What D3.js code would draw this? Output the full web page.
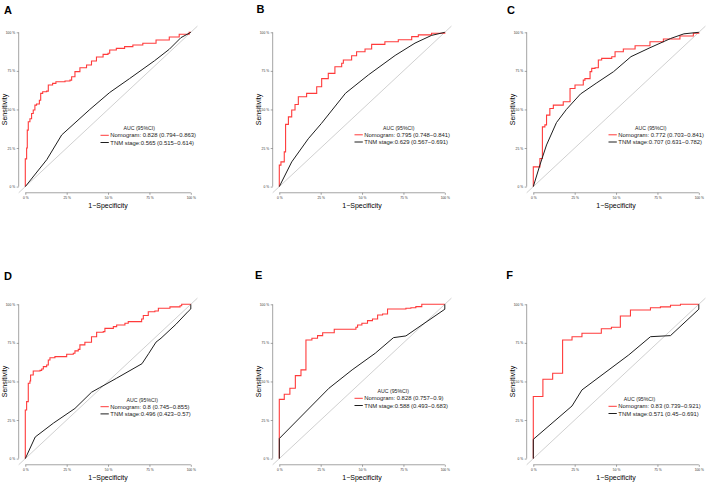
<!DOCTYPE html>
<html>
<head>
<meta charset="utf-8">
<script src="https://cdn.jsdelivr.net/npm/d3@7"></script>
<style>
  body { margin: 0; background: #fff; }
  svg { display: block; font-family: "Liberation Sans", Arial, sans-serif; }
</style>
</head>
<body>
<svg id="chart" width="708" height="486"></svg>
<script>
// ---- data ----
const panelNames = ["A", "B", "C", "D", "E", "F"];
const tickValues = [0, 0.25, 0.5, 0.75, 1];
const tickLabels = ["0 %", "25 %", "50 %", "75 %", "100 %"];

const nomogramAuc  = [0.828, 0.795, 0.772, 0.8, 0.828, 0.83];
const nomogramLow  = [0.794, 0.748, 0.703, 0.745, 0.757, 0.739];
const nomogramHigh = [0.863, 0.841, 0.841, 0.855, 0.9, 0.921];
const tnmAuc  = [0.565, 0.629, 0.707, 0.496, 0.588, 0.571];
const tnmLow  = [0.515, 0.567, 0.631, 0.423, 0.493, 0.45];
const tnmHigh = [0.614, 0.691, 0.782, 0.57, 0.683, 0.691];

// ROC points [1 - specificity, sensitivity]
const nomogramA = [[0,0],[0,0.18],[0.008,0.25],[0.012,0.366],[0.018,0.42],[0.028,0.44],[0.038,0.474],[0.048,0.496],[0.058,0.528],[0.068,0.535],[0.085,0.56],[0.093,0.604],[0.105,0.615],[0.129,0.619],[0.139,0.658],[0.165,0.669],[0.185,0.68],[0.24,0.684],[0.27,0.69],[0.28,0.712],[0.3,0.745],[0.33,0.77],[0.37,0.788],[0.4,0.814],[0.43,0.84],[0.47,0.857],[0.5,0.864],[0.51,0.885],[0.55,0.896],[0.6,0.907],[0.65,0.918],[0.71,0.929],[0.79,0.95],[0.87,0.97],[0.93,0.987],[0.99,1],[1,1]];
const nomogramB = [[0,0],[0,0.139],[0.01,0.16],[0.03,0.225],[0.038,0.403],[0.055,0.452],[0.075,0.496],[0.095,0.532],[0.115,0.582],[0.165,0.604],[0.226,0.647],[0.256,0.7],[0.296,0.734],[0.336,0.777],[0.377,0.799],[0.387,0.82],[0.437,0.848],[0.467,0.874],[0.518,0.892],[0.558,0.922],[0.638,0.939],[0.719,0.952],[0.8,0.972],[0.84,0.983],[0.92,0.994],[1,1]];
const nomogramC = [[0,0],[0,0.128],[0.04,0.182],[0.055,0.387],[0.07,0.4],[0.08,0.463],[0.1,0.506],[0.121,0.528],[0.181,0.55],[0.222,0.636],[0.252,0.658],[0.302,0.69],[0.312,0.7],[0.343,0.745],[0.353,0.766],[0.373,0.77],[0.393,0.82],[0.413,0.831],[0.474,0.842],[0.494,0.874],[0.544,0.892],[0.615,0.913],[0.705,0.939],[0.786,0.957],[0.886,0.976],[0.967,0.994],[1,1]];
const nomogramD = [[0,0],[0,0.315],[0.008,0.369],[0.018,0.488],[0.028,0.503],[0.032,0.542],[0.048,0.568],[0.089,0.572],[0.099,0.581],[0.109,0.596],[0.129,0.607],[0.139,0.639],[0.149,0.654],[0.179,0.661],[0.25,0.676],[0.29,0.683],[0.3,0.698],[0.32,0.708],[0.33,0.737],[0.36,0.754],[0.4,0.79],[0.431,0.819],[0.471,0.823],[0.481,0.844],[0.532,0.855],[0.552,0.866],[0.602,0.877],[0.622,0.888],[0.703,0.905],[0.713,0.927],[0.743,0.952],[0.783,0.957],[0.804,0.974],[0.874,0.983],[0.935,0.991],[0.945,1],[1,1]];
const nomogramE = [[0,0],[0,0.384],[0.03,0.417],[0.064,0.456],[0.097,0.538],[0.131,0.575],[0.161,0.769],[0.197,0.78],[0.231,0.797],[0.262,0.816],[0.332,0.838],[0.463,0.851],[0.473,0.866],[0.499,0.877],[0.533,0.894],[0.563,0.905],[0.594,0.931],[0.624,0.937],[0.654,0.97],[0.765,0.974],[0.795,0.978],[0.825,0.985],[0.861,1],[1,1]];
const nomogramF = [[0,0],[0,0.402],[0.058,0.514],[0.117,0.553],[0.177,0.769],[0.234,0.79],[0.294,0.812],[0.411,0.842],[0.472,0.851],[0.526,0.924],[0.587,0.963],[0.708,0.978],[0.768,0.983],[0.829,0.994],[0.889,1],[1,1]];

const tnmA = [[0,0],[0.13,0.175],[0.22,0.335],[0.39,0.5],[0.51,0.61],[0.63,0.7],[0.78,0.815],[0.87,0.89],[0.94,0.965],[1,1]];
const tnmB = [[0,0],[0.075,0.16],[0.175,0.31],[0.255,0.41],[0.4,0.605],[0.54,0.725],[0.7,0.85],[0.82,0.93],[0.92,0.98],[1,1]];
const tnmC = [[0,0],[0.04,0.14],[0.08,0.27],[0.14,0.415],[0.2,0.5],[0.285,0.6],[0.38,0.67],[0.485,0.745],[0.59,0.842],[0.705,0.9],[0.83,0.96],[0.91,0.99],[1,1]];
const tnmD = [[0,0],[0.06,0.14],[0.17,0.23],[0.3,0.325],[0.4,0.43],[0.45,0.46],[0.55,0.52],[0.705,0.615],[0.745,0.68],[0.79,0.755],[0.82,0.78],[0.91,0.87],[0.985,0.955],[1,0.97],[1,1]];
const tnmE = [[0,0],[0,0.13],[0.3,0.456],[0.44,0.575],[0.58,0.683],[0.69,0.784],[0.765,0.795],[1,0.968],[1,1]];
const tnmF = [[0,0],[0,0.125],[0.234,0.341],[0.294,0.445],[0.577,0.672],[0.708,0.79],[0.829,0.797],[1,0.968],[1,1]];

const nomogramCurves = [nomogramA, nomogramB, nomogramC, nomogramD, nomogramE, nomogramF];
const tnmCurves = [tnmA, tnmB, tnmC, tnmD, tnmE, tnmF];

// ---- layout ----
const colX = [25.3, 279.3, 533.3];
const rowY = [32.3, 304.3];
const plotW = 165.5, plotH = 154.3;
const labelX = [4, 256.5, 507, 4, 255, 506.3];
const labelBase = [14, 13.3, 14, 280, 279.3, 279.3];
const legendTitleX = [113.9, 119.4, 117.5, 116.9, 114, 106.2];
const legendRowY = [103, 102.5, 102.5, 102.4, 94, 102];

const red = "#ff3b3b", dark = "#1e1e1e", axisColor = "#666";

const svg = d3.select("#chart");
const fmt = (a, lo, hi) => `${a} (${lo}\u2212${hi})`;

panelNames.forEach((name, i) => {
  const col = i % 3, row = Math.floor(i / 3);
  const x0 = colX[col], y1 = rowY[row];
  const x = d3.scaleLinear().domain([0, 1]).range([x0, x0 + plotW]);
  const y = d3.scaleLinear().domain([0, 1]).range([y1 + plotH, y1]);
  const g = svg.append("g");

  // panel letter
  g.append("text")
    .attr("x", labelX[i]).attr("y", labelBase[i])
    .attr("font-size", 11).attr("font-weight", "bold")
    .text(name);

  // reference diagonal across the whole plot region
  g.append("line")
    .attr("x1", x(-0.04)).attr("y1", y(-0.04))
    .attr("x2", x(1.04)).attr("y2", y(1.04))
    .attr("stroke", "#c4c4c4").attr("stroke-width", 0.8);

  // y axis
  const ya = g.append("g")
    .attr("transform", `translate(${x(-0.04)},0)`)
    .call(d3.axisLeft(y).tickValues(tickValues).tickFormat((d, k) => tickLabels[k]).tickSize(2).tickPadding(1.6));
  ya.select(".domain").remove();
  ya.append("line").attr("y1", y(0)).attr("y2", y(1)).attr("stroke", axisColor).attr("stroke-width", 0.6);

  // x axis
  const xa = g.append("g")
    .attr("transform", `translate(0,${y(-0.04)})`)
    .call(d3.axisBottom(x).tickValues(tickValues).tickFormat((d, k) => tickLabels[k]).tickSize(2).tickPadding(2.2));
  xa.select(".domain").remove();
  xa.append("line").attr("x1", x(0)).attr("x2", x(1)).attr("stroke", axisColor).attr("stroke-width", 0.6);

  [ya, xa].forEach(a => {
    a.attr("font-size", 3.3).attr("font-family", null).attr("color", axisColor);
    a.selectAll(".tick line").attr("stroke-width", 0.6);
    a.selectAll(".tick text").attr("fill", "#333");
  });

  // axis titles
  g.append("text")
    .attr("transform", `translate(${x0 - 18.2},${y(0.5)}) rotate(-90)`)
    .attr("text-anchor", "middle").attr("font-size", 7)
    .text("Sensitivity");
  g.append("text")
    .attr("x", x(0.5)).attr("y", y(0) + 21)
    .attr("text-anchor", "middle").attr("font-size", 7)
    .text("1\u2212Specificity");

  // curves
  const stepLine = d3.line().x(d => x(d[0])).y(d => y(d[1])).curve(d3.curveStepAfter);
  const straight = d3.line().x(d => x(d[0])).y(d => y(d[1]));
  g.append("path").attr("d", stepLine(nomogramCurves[i]))
    .attr("fill", "none").attr("stroke", red).attr("stroke-width", 1.1);
  g.append("path").attr("d", straight(tnmCurves[i]))
    .attr("fill", "none").attr("stroke", dark).attr("stroke-width", 1);

  // legend
  const ly = y1 + legendRowY[i];
  const lx = x0 + 75.2;
  g.append("text")
    .attr("x", x0 + legendTitleX[i]).attr("y", ly - 7 + 1.8)
    .attr("text-anchor", "middle").attr("font-size", 5.2).attr("fill", "#222")
    .text("AUC (95%CI)");
  const rows = [
    { color: red, text: "Nomogram: " + fmt(nomogramAuc[i], nomogramLow[i], nomogramHigh[i]) },
    { color: dark, text: "TNM stage:" + fmt(tnmAuc[i], tnmLow[i], tnmHigh[i]) }
  ];
  rows.forEach((r, k) => {
    const ry = ly + k * 7.2;
    g.append("line").attr("x1", lx).attr("x2", lx + 8.3).attr("y1", ry).attr("y2", ry)
      .attr("stroke", r.color).attr("stroke-width", 1);
    g.append("text").attr("x", lx + 9.8).attr("y", ry + 2)
      .attr("font-size", 5.9).attr("fill", "#222")
      .text(r.text);
  });
});
</script>
</body>
</html>
